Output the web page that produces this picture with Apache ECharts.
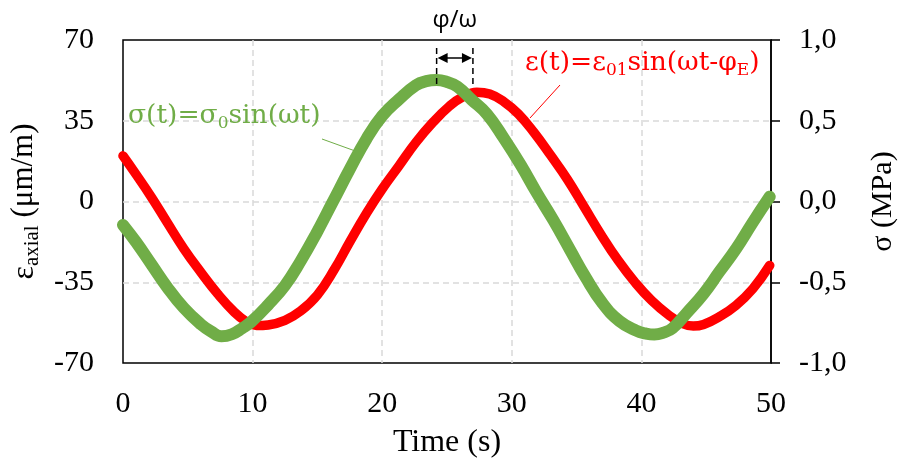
<!DOCTYPE html>
<html><head><meta charset="utf-8">
<script src="https://cdn.jsdelivr.net/npm/echarts@6/dist/echarts.min.js"></script>
<style>html,body{margin:0;padding:0;background:#fff}#c{width:899px;height:468px}</style>
</head><body><div id="c"></div>
<script>
// σ(t) – stress, right axis (MPa)
const stressTime = [0, 1.0, 2.2, 3.4, 4.7, 6.0, 6.8, 7.6, 8.4, 9.2, 9.9, 11.2, 12.5, 13.7, 14.9, 16.2, 17.5, 18.8, 20.0, 21.3, 22.6, 23.4, 24.2, 25.0, 25.8, 26.9, 28.1, 29.4, 30.7, 31.9, 33.2, 34.5, 35.7, 37.0, 38.3, 39.6, 40.3, 41.0, 41.7, 42.4, 43.5, 44.8, 46.0, 47.3, 48.6, 49.9];
const stressMPa = [-0.145, -0.25, -0.39, -0.53, -0.66, -0.76, -0.805, -0.835, -0.822, -0.785, -0.745, -0.64, -0.52, -0.37, -0.2, 0.0, 0.2, 0.39, 0.53, 0.633, 0.72, 0.745, 0.752, 0.74, 0.712, 0.63, 0.54, 0.39, 0.225, 0.057, -0.115, -0.3, -0.47, -0.63, -0.74, -0.8, -0.817, -0.824, -0.812, -0.785, -0.69, -0.571, -0.437, -0.293, -0.128, 0.03];
// ε(t) – axial strain, left axis (μm/m)
const strainTime = [0, 0.9, 2.2, 3.4, 4.7, 6.0, 7.3, 8.6, 9.5, 10.3, 11.2, 12.5, 13.7, 15.0, 16.3, 17.5, 18.8, 20.0, 21.3, 22.6, 23.9, 25.2, 26.2, 27.3, 28.3, 29.4, 30.5, 31.7, 33.0, 34.3, 35.6, 36.9, 38.2, 39.5, 40.8, 42.1, 43.2, 44.0, 44.8, 46.0, 47.3, 48.6, 49.9];
const strainMicro = [19.8, 12.6, 1.8, -9, -20.5, -30.6, -40, -48, -52, -53.8, -53.5, -51.5, -47.5, -40.5, -29.5, -17.5, -5, 5.4, 15.5, 25.6, 34.2, 41.4, 45.3, 47.4, 46.6, 43.2, 38, 30, 20, 9.5, -2.5, -14.5, -25.5, -35, -43, -49.2, -53, -54, -53.3, -50, -45, -37.8, -27.7];
// axis ticks
const timeTicks = [0, 10, 20, 30, 40, 50];
const strainTicks = [-70, -35, 0, 35, 70];
const stressTicks = [-1.0, -0.5, 0.0, 0.5, 1.0];
// peak times marking the phase lag φ/ω
const phasePeaks = [24.2, 27.0];

const GREEN = '#70AD47', RED = '#FF0000';
const SERIF = '"Liberation Serif", "Times New Roman", serif';
const FORM = '"DejaVu Serif", serif';

const chart = echarts.init(document.getElementById('c'), null, {renderer: 'canvas'});
const gridDash = {color: '#D9D9D9', width: 1.5, type: [6, 4]};
const axisFont = {fontFamily: SERIF, fontSize: 30, color: '#000'};

chart.setOption({
  animation: false,
  backgroundColor: '#fff',
  grid: {left: 123, right: 128, top: 40, bottom: 105, outerBoundsMode: 'none', containLabel: false,
         show: true, borderColor: '#000', borderWidth: 1.5, backgroundColor: 'transparent'},
  xAxis: {
    type: 'value', min: timeTicks[0], max: timeTicks[timeTicks.length - 1], interval: 10,
    axisLine: {show: false}, axisTick: {show: false},
    splitLine: {show: true, showMinLine: false, showMaxLine: false, lineStyle: gridDash},
    axisLabel: Object.assign({margin: 26, formatter: v => timeTicks.includes(v) ? String(v) : ''}, axisFont),
    name: 'Time (s)', nameLocation: 'middle', nameGap: 64,
    nameTextStyle: {fontFamily: SERIF, fontSize: 32, color: '#000'}
  },
  yAxis: [{
    type: 'value', min: strainTicks[0], max: strainTicks[strainTicks.length - 1], interval: 35,
    axisLine: {show: false}, axisTick: {show: false},
    splitLine: {show: true, showMinLine: false, showMaxLine: false, lineStyle: gridDash},
    axisLabel: Object.assign({margin: 29}, axisFont),
    name: '{e|ε}{s|axial}{n| (μm/m)}', nameLocation: 'middle', nameGap: 76, nameRotate: 90,
    nameTextStyle: {
      fontFamily: SERIF, color: '#000',
      rich: {
        e: {fontFamily: SERIF, fontSize: 32, lineHeight: 38, color: '#000'},
        s: {fontFamily: SERIF, fontSize: 21, lineHeight: 21, verticalAlign: 'bottom', color: '#000'},
        n: {fontFamily: SERIF, fontSize: 31, lineHeight: 38, color: '#000'}
      }
    }
  }, {
    type: 'value', min: stressTicks[0], max: stressTicks[stressTicks.length - 1], interval: 0.5,
    position: 'right',
    axisLine: {show: true, lineStyle: {color: '#000', width: 1.5}},
    axisTick: {show: true, inside: false, length: 9, lineStyle: {color: '#000', width: 1.5}},
    splitLine: {show: false},
    axisLabel: Object.assign({margin: 28, formatter: v => v.toFixed(1).replace('.', ',')}, axisFont),
    name: 'σ (MPa)', nameLocation: 'middle', nameGap: 97, nameRotate: 90,
    nameTextStyle: {fontFamily: SERIF, fontSize: 30, color: '#000'}
  }],
  series: [{
    name: 'strain', type: 'line', yAxisIndex: 0, smooth: 0.45, showSymbol: false,
    data: strainTime.map((t, i) => [t, strainMicro[i]]),
    lineStyle: {color: RED, width: 9.5, cap: 'round', join: 'round'}, z: 2
  }, {
    name: 'stress', type: 'line', yAxisIndex: 1, smooth: 0.45, showSymbol: false,
    data: stressTime.map((t, i) => [t, stressMPa[i]]),
    lineStyle: {color: GREEN, width: 12, cap: 'round', join: 'round'}, z: 3
  }]
});

const x1 = chart.convertToPixel({xAxisIndex: 0}, phasePeaks[0]);
const x2 = chart.convertToPixel({xAxisIndex: 0}, phasePeaks[1]);
const ay = 58;
const dashed = {stroke: '#000', lineWidth: 1.5, lineDash: [6, 4]};
const subStyle = (c) => ({fontFamily: FORM, fontSize: 17, lineHeight: 17, verticalAlign: 'bottom', fill: c});
const mainStyle = (c) => ({fontFamily: FORM, fontSize: 26.5, lineHeight: 32, fill: c});

chart.setOption({
  graphic: [
    {type: 'line', shape: {x1: x1, y1: 48, x2: x1, y2: 86}, style: dashed, z: 10},
    {type: 'line', shape: {x1: x2, y1: 48, x2: x2, y2: 86}, style: dashed, z: 10},
    {type: 'line', shape: {x1: x1 + 6, y1: ay, x2: x2 - 6, y2: ay}, style: {stroke: '#000', lineWidth: 1.5}, z: 10},
    {type: 'polygon', shape: {points: [[x1 + 1, ay], [x1 + 11, ay - 5], [x1 + 11, ay + 5]]}, style: {fill: '#000'}, z: 10},
    {type: 'polygon', shape: {points: [[x2 - 1, ay], [x2 - 11, ay - 5], [x2 - 11, ay + 5]]}, style: {fill: '#000'}, z: 10},
    {type: 'text', x: (x1 + x2) / 2, y: 20, style: {text: 'φ/ω', fontFamily: '"Open Sans", sans-serif', fontSize: 24, fill: '#000', align: 'center', verticalAlign: 'middle'}, z: 10},
    {type: 'text', x: 128, y: 116, z: 10, style: {
      text: '{a|σ(t)=σ}{s|0}{a|sin(ωt)}', align: 'left', verticalAlign: 'middle',
      rich: {a: mainStyle(GREEN), s: subStyle(GREEN)}
    }},
    {type: 'line', shape: {x1: 322, y1: 139, x2: 358, y2: 152}, style: {stroke: GREEN, lineWidth: 1}, z: 10},
    {type: 'text', x: 525, y: 63, z: 10, style: {
      text: '{a|ε(t)=ε}{s|01}{a|sin(ωt-φ}{s|E}{a|)}', align: 'left', verticalAlign: 'middle',
      rich: {a: mainStyle(RED), s: subStyle(RED)}
    }},
    {type: 'line', shape: {x1: 560, y1: 85, x2: 530, y2: 118}, style: {stroke: RED, lineWidth: 1}, z: 10}
  ]
});
</script>
</body></html>
